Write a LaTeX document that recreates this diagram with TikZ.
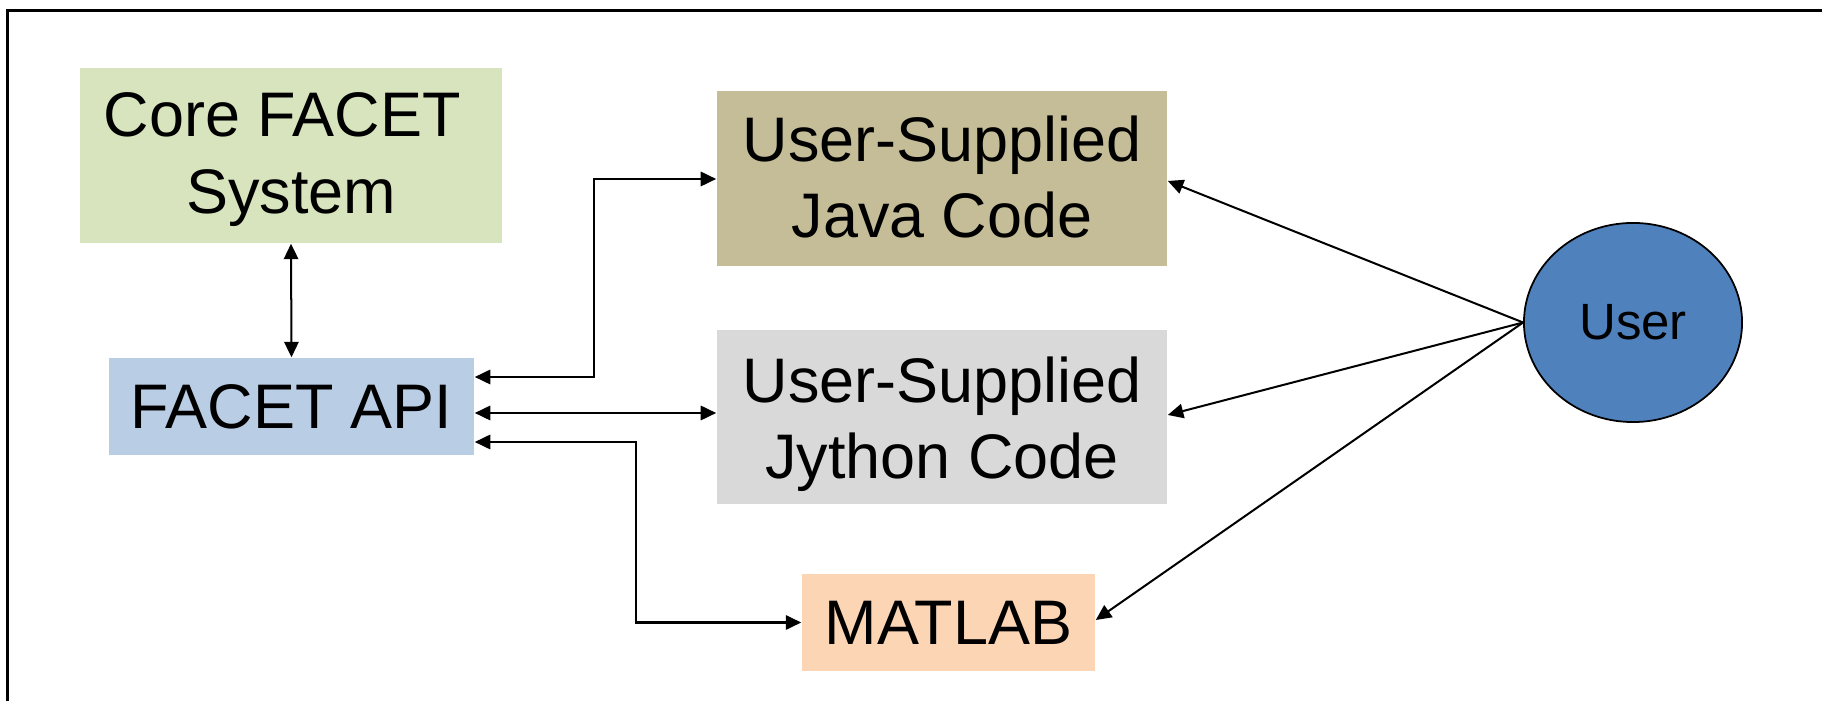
\documentclass[tikz,border=0pt]{standalone}
\usepackage{fontspec}
\setmainfont{Liberation Sans}
\usetikzlibrary{arrows.meta,shapes.geometric}
\definecolor{coregreen}{HTML}{D7E4BD}
\definecolor{javatan}{HTML}{C4BD97}
\definecolor{jythongray}{HTML}{D9D9D9}
\definecolor{apiblue}{HTML}{B9CDE5}
\definecolor{matlaborange}{HTML}{FCD5B5}
\definecolor{userblue}{HTML}{4F81BD}
\begin{document}
\begin{tikzpicture}[x=0.01cm,y=-0.01cm,
  box/.style={rectangle,inner sep=0pt,draw=none},
  bigtext/.style={font=\fontsize{17.9pt}{21.8pt}\selectfont,align=center,inner sep=0pt},
  conn/.style={line width=0.57pt},
  onehead/.style={-{Triangle[length=4.4pt,width=4.1pt]}},
  twoheads/.style={{Triangle[length=4.4pt,width=4.1pt]}-{Triangle[length=4.4pt,width=4.1pt]}}]
\useasboundingbox (0,0) rectangle (1822,701);
\fill[white] (0,0) rectangle (1822,701);
\draw[line width=0.7pt] (7.5,701) -- (7.5,10.5) -- (1822,10.5);

% boxes
\node[box,fill=coregreen,minimum width=4.22cm,minimum height=1.75cm] (core) at (291,155.5) {};
\node[bigtext,anchor=north] (coretext) at (291,92) {Core FACET\kern0.278em\\System};

\node[box,fill=javatan,minimum width=4.50cm,minimum height=1.75cm] (java) at (942,178.5) {};
\node[bigtext,anchor=north] (javatext) at (942,115) {User-Supplied\\Java Code};

\node[box,fill=jythongray,minimum width=4.50cm,minimum height=1.74cm] (jython) at (942,417) {};
\node[bigtext,anchor=north] (jythontext) at (942,356) {User-Supplied\\Jython Code};

\node[box,bigtext,fill=apiblue,minimum width=3.65cm,minimum height=0.97cm] (api) at (291.5,406.5) {FACET API};

\node[box,bigtext,fill=matlaborange,minimum width=2.93cm,minimum height=0.97cm] (matlab) at (948.5,622.5) {MATLAB};

\node[ellipse,draw=black,line width=0.5pt,fill=userblue,minimum width=2.18cm,minimum height=1.99cm,inner sep=0pt,font=\fontsize{14.5pt}{17pt}\selectfont] (user) at (1633,322.5) {User};

% connectors
\draw[conn,twoheads] (core.south) -- (api.north);
\draw[conn,twoheads] (api.east |- 0,377) -| (594,179) -- (java.west |- 0,179);
\draw[conn,twoheads] (api.east |- 0,413) -- (jython.west |- 0,413);
\draw[conn,twoheads] (api.east |- 0,442) -| (636,622.5) -- (matlab.west);
\draw[conn,onehead] (user.west) -- (java.east |- 0,181);
\draw[conn,onehead] (user.west) -- (jython.east |- 0,415);
\draw[conn,onehead] (user.west) -- (matlab.east |- 0,620);
\end{tikzpicture}
\end{document}
